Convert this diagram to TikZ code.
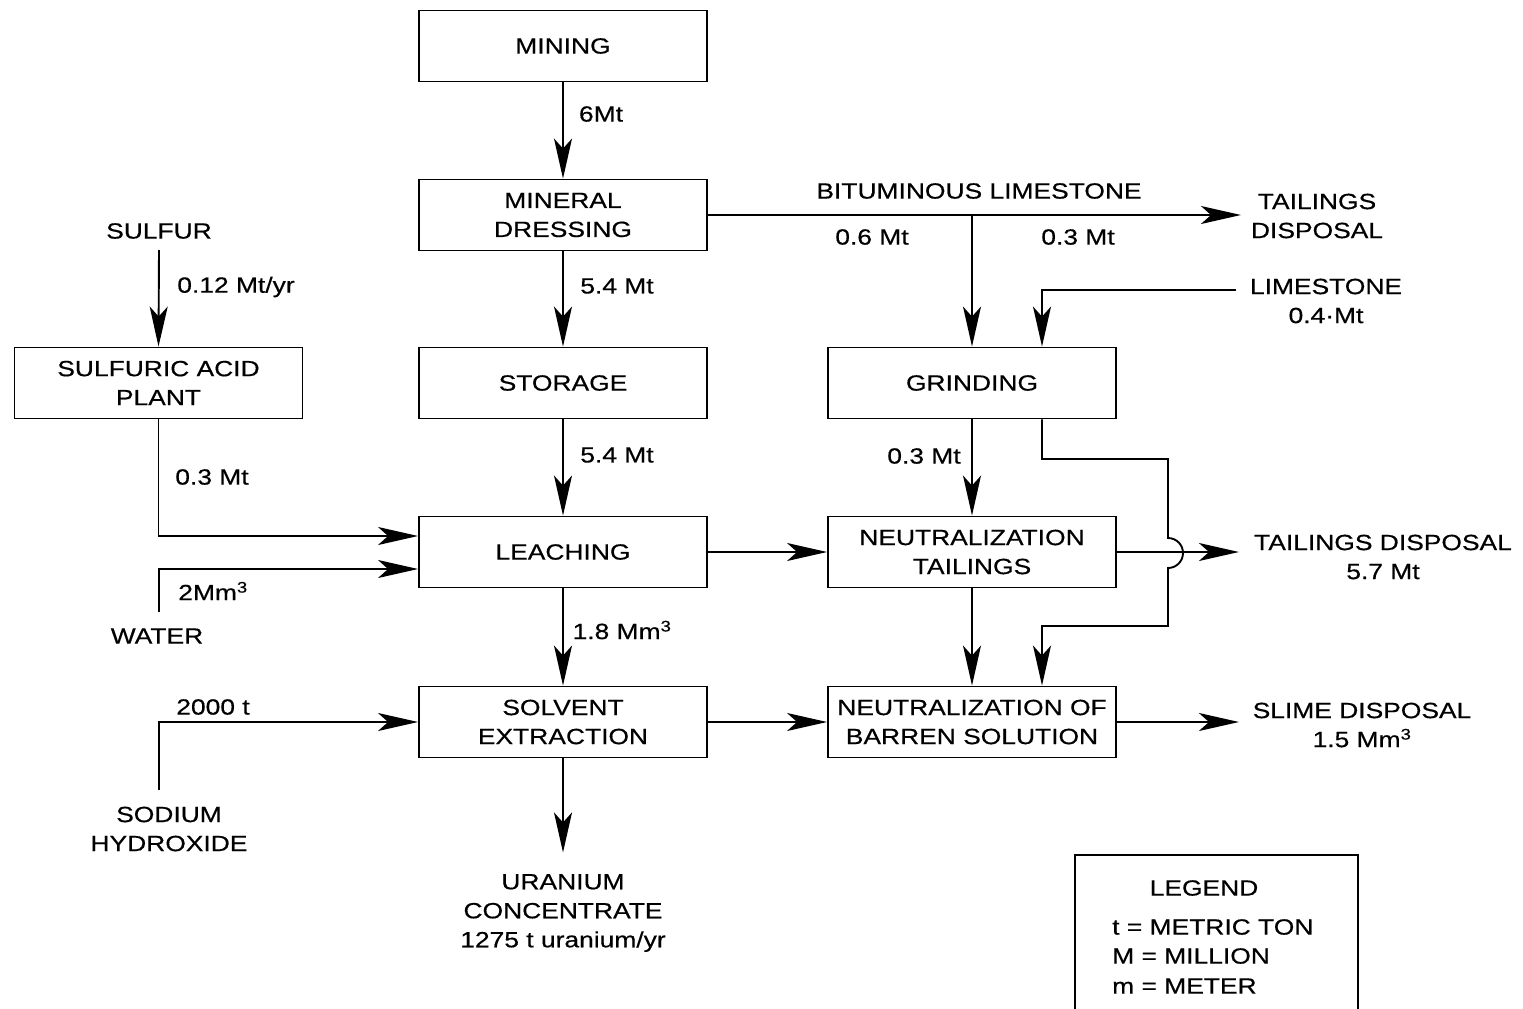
\documentclass[tikz,border=0pt]{standalone}
\usepackage{fontspec}
\setmainfont{Liberation Sans}[FakeStretch=1.2,FakeBold=0.5]
\usetikzlibrary{arrows.meta,calc}
\begin{document}
\begin{tikzpicture}[x=1pt,y=-1pt,
  every node/.style={font=\fontsize{22}{29}\selectfont, align=center, inner sep=4pt},
  box/.style={draw, line width=1.9pt, minimum width=288pt, minimum height=71pt, inner sep=0pt},
  arr/.style={line width=1.9pt, -{Stealth[length=40pt,width=18pt,inset=10pt]}},
  ln/.style={line width=1.9pt}]
\useasboundingbox (0,0) rectangle (1523,1009);

% boxes
\node[box] (mining) at (563,46) {MINING};
\node[box] (dress) at (563,215) {MINERAL\\DRESSING};
\node[box] (stor) at (563,383) {STORAGE};
\node[box] (leach) at (563,552) {LEACHING};
\node[box] (solv) at (563,722) {SOLVENT\\EXTRACTION};
\node[box] (acid) at (158.5,383) {SULFURIC ACID\\PLANT};
\node[box] (grind) at (972,383) {GRINDING};
\node[box] (neut) at (972,552) {NEUTRALIZATION\\TAILINGS};
\node[box] (barren) at (972,722) {NEUTRALIZATION OF\\BARREN SOLUTION};

% free texts
\node (sulfur) at (159,231) {SULFUR};
\node (water) at (157,636) {WATER};
\node (sodium) at (169,829) {SODIUM\\HYDROXIDE};
\node (uran) at (563,913) {URANIUM\\CONCENTRATE\\1275 t uranium/yr};
\node (tail1) at (1317,216) {TAILINGS\\DISPOSAL};
\node (lime) at (1326,301) {LIMESTONE\\0.4·Mt};
\node (tail2) at (1383,557) {TAILINGS DISPOSAL\\5.7 Mt};
\node (slime) at (1362,725) {SLIME DISPOSAL\\1.5 Mm\textsuperscript{3}};
\node (bitum) at (979,191) {BITUMINOUS LIMESTONE};

% labels
\node (l1) at (601,114) {6Mt};
\node (l2) at (617,286) {5.4 Mt};
\node (l3) at (617,455) {5.4 Mt};
\node (l4) at (622,630) {1.8 Mm\textsuperscript{3}};
\node (l5) at (236,287) {0.12 Mt/yr};
\node (l6) at (212,477) {0.3 Mt};
\node (l7) at (213,591) {2Mm\textsuperscript{3}};
\node (l8) at (213,707) {2000 t};
\node (l9) at (872,237) {0.6 Mt};
\node (l10) at (1078,237) {0.3 Mt};
\node (l11) at (924,456) {0.3 Mt};

% coordinates
\coordinate (wstart) at (159,612);
\coordinate (nstart) at (159,790);
\coordinate (sstart) at (159,250);
\coordinate (limeend) at (1236,290);
\coordinate (bendtop) at (1168,459);
\coordinate (hopc) at (1168,553);
\coordinate (bendbot) at (1168,626);

% central chain
\draw[arr] (mining) -- (dress);
\draw[arr] (dress) -- (stor);
\draw[arr] (stor) -- (leach);
\draw[arr] (leach) -- (solv);
\draw[arr] (solv.south) -- ([yshift=-94pt]solv.south);

% left inputs
\draw[arr] (sstart) -- (acid.north);
\draw[arr] (acid.south) |- ([yshift=16pt]leach.west);
\draw[arr] (wstart) |- ([yshift=-17pt]leach.west);
\draw[arr] (nstart) |- (solv.west);

% right part
\draw[arr] (dress.east) -- ([xshift=533pt]dress.east);
\draw[arr] (dress.east -| grind.north) -- (grind.north);
\draw[arr] (limeend) -| ([xshift=70pt]grind.north);
\draw[arr] (grind) -- (neut);
\draw[arr] (leach) -- (neut);
\draw[arr] (neut.east) -- ([xshift=122pt]neut.east);
\draw[arr] (neut) -- (barren);
\draw[arr] (solv) -- (barren);
\draw[arr] (barren.east) -- ([xshift=122pt]barren.east);
\draw[arr] ([xshift=70pt]grind.south) |- (bendtop) -- ([yshift=15pt]hopc)
  arc[start angle=90, end angle=-90, radius=15pt] -- (bendbot) -| ([xshift=70pt]barren.north);

% legend
\draw[ln] (1075,1009) |- (1358,855) -- (1358,1009);
\node (leg) at (1204,888) {LEGEND};
\node[anchor=west] (leg1) at (1108,927) {t = METRIC TON};
\node[anchor=west] (leg2) at (1108,956) {M = MILLION};
\node[anchor=west] (leg3) at (1108,986) {m = METER};
\end{tikzpicture}
\end{document}
